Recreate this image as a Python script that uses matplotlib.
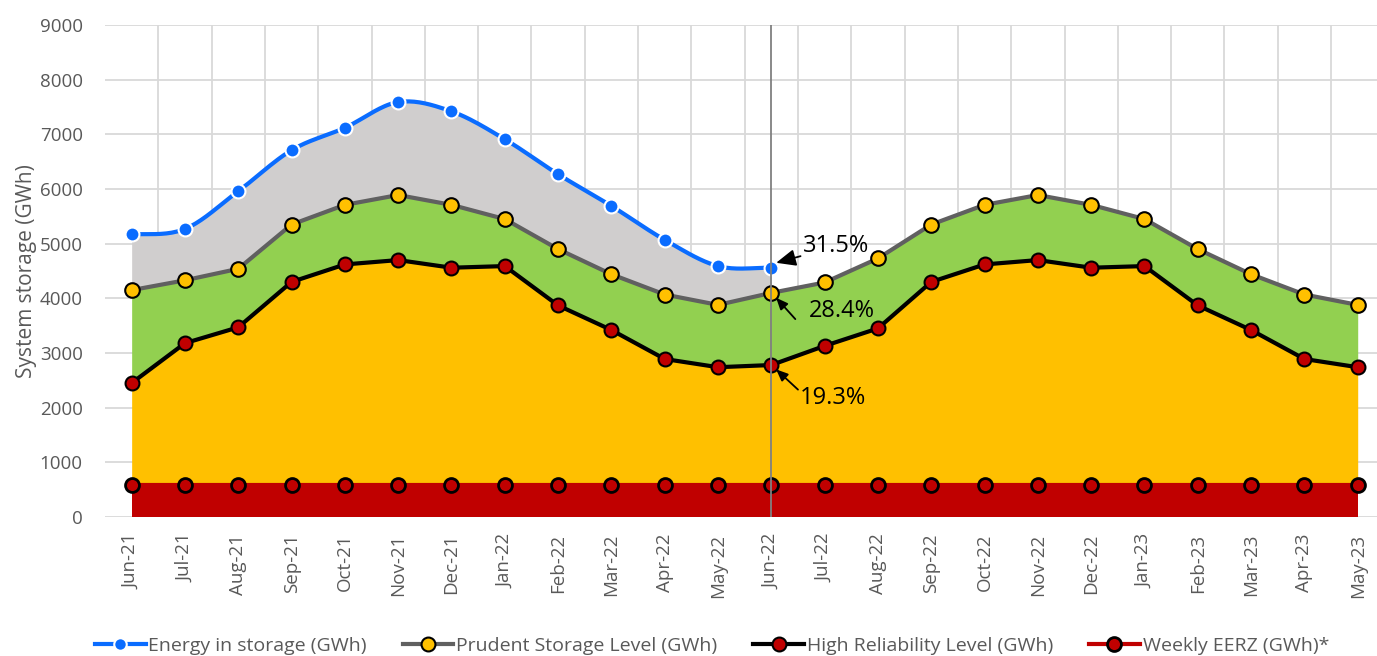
import numpy as np
import matplotlib
matplotlib.use("Agg")
import matplotlib.pyplot as plt
from matplotlib.lines import Line2D

plt.rcParams['font.family'] = ['Open Sans', 'DejaVu Sans']

months = ["Jun-21", "Jul-21", "Aug-21", "Sep-21", "Oct-21", "Nov-21", "Dec-21", "Jan-22",
          "Feb-22", "Mar-22", "Apr-22", "May-22", "Jun-22", "Jul-22", "Aug-22", "Sep-22",
          "Oct-22", "Nov-22", "Dec-22", "Jan-23", "Feb-23", "Mar-23", "Apr-23", "May-23"]
energy = [5170, 5270, 5960, 6710, 7120, 7590, 7420, 6910, 6270, 5690, 5070, 4590, 4560]
prudent = [4150, 4330, 4540, 5350, 5710, 5890, 5710, 5450, 4900, 4440, 4070, 3880,
           4100, 4290, 4730, 5350, 5710, 5890, 5710, 5450, 4900, 4440, 4070, 3880]
high_rel = [2450, 3180, 3470, 4300, 4620, 4700, 4560, 4590, 3870, 3420, 2890, 2740,
            2780, 3130, 3450, 4300, 4620, 4700, 4560, 4590, 3870, 3420, 2890, 2740]
eerz = [590] * 24
labels = ["31.5%", "28.4%", "19.3%"]


def catmull_rom(xs, ys, n=20):
    xs = np.asarray(xs, float)
    ys = np.asarray(ys, float)
    px = np.concatenate([[2 * xs[0] - xs[1]], xs, [2 * xs[-1] - xs[-2]]])
    py = np.concatenate([[ys[0]], ys, [ys[-1]]])
    ox, oy = [], []
    for i in range(1, len(px) - 2):
        t = np.linspace(0, 1, n, endpoint=False)
        for p, o in ((px, ox), (py, oy)):
            p0, p1, p2, p3 = p[i - 1], p[i], p[i + 1], p[i + 2]
            o.extend(0.5 * ((2 * p1) + (-p0 + p2) * t + (2 * p0 - 5 * p1 + 4 * p2 - p3) * t ** 2
                            + (-p0 + 3 * p1 - 3 * p2 + p3) * t ** 3))
    ox.append(xs[-1]); oy.append(ys[-1])
    return np.array(ox), np.array(oy)


fig = plt.figure(figsize=(13.77, 6.56), dpi=100)
ax = fig.add_axes([105 / 1377, 1 - 517 / 656, 1 - 105 / 1377, (517 - 25) / 656])

x = np.arange(len(months))
xe = x[:len(energy)]

sx, sy = catmull_rom(xe, energy)
p_interp = np.interp(sx, xe, prudent[:len(energy)])

ax.fill_between(x, 0, eerz, color="#C00000", zorder=1, lw=0)
ax.fill_between(x, eerz, high_rel, color="#FFC000", zorder=1, lw=0)
ax.fill_between(x, high_rel, prudent, color="#92D050", zorder=1, lw=0)
ax.fill_between(sx, p_interp, sy, color="#D0CECE", zorder=1, lw=0)

ax.plot(x, eerz, color="#C00000", lw=3, zorder=3, marker="o", ms=10,
        mfc="#C00000", mec="black", mew=2)
ax.plot(x, high_rel, color="black", lw=3, zorder=4, marker="o", ms=10,
        mfc="#C00000", mec="black", mew=1.5)
ax.plot(x, prudent, color="#606060", lw=3, zorder=4, marker="o", ms=10.5,
        mfc="#FFC000", mec="black", mew=1.5)
ax.plot(sx, sy, color="#0A6CFF", lw=3, zorder=5, solid_capstyle="round")
ax.plot(xe, energy, ls="none", marker="o", ms=10, mfc="#0A6CFF", mec="white", mew=1.5, zorder=6)

ax.axvline(12, color="#808080", lw=1.3, zorder=7)

xlim_right = 23 + (1377 - 1357.7) / 53.33
ax.set_xlim(-0.5, xlim_right)
ax.set_ylim(0, 9000)
ax.set_yticks(np.arange(0, 9001, 1000))
ax.set_xticks(x)
ax.set_xticklabels(months, rotation=90)
ax.set_xticks(np.arange(0.5, 23, 1), minor=True)
ax.grid(True, which="minor", axis="x", color="#D9D9D9", lw=1.3)
ax.grid(True, which="major", axis="y", color="#D9D9D9", lw=1.3)
ax.set_axisbelow(True)
ax.tick_params(which="both", length=0, labelsize=13.5, colors="#595959")
ax.tick_params(axis="x", pad=12)
ax.tick_params(axis="y", pad=16)
for s in ax.spines.values():
    s.set_visible(False)
ax.set_ylabel("System storage (GWh)", fontsize=15, color="#595959", labelpad=2)

arrowprops = dict(arrowstyle="-|>,head_length=0.7,head_width=0.3", color="black", lw=1.3,
                  shrinkA=0, shrinkB=0)
ax.annotate(labels[0], xy=(12.09, energy[12] + 90), xytext=(12.6, 4950), fontsize=17,
            va="center", ha="left", arrowprops=arrowprops, zorder=8)
ax.annotate("", xy=(12.09, prudent[12] - 90), xytext=(12.45, 3620),
            arrowprops=arrowprops, zorder=8)
ax.text(12.7, 3760, labels[1], fontsize=17, va="center", ha="left", zorder=8)
ax.annotate("", xy=(12.09, high_rel[12] - 80), xytext=(12.5, 2330),
            arrowprops=arrowprops, zorder=8)
ax.text(12.53, 2170, labels[2], fontsize=17, va="center", ha="left", zorder=8)

handles = [
    Line2D([], [], color="#0A6CFF", lw=3, marker="o", ms=9, mfc="#0A6CFF", mec="white", mew=1.5),
    Line2D([], [], color="#606060", lw=3, marker="o", ms=10, mfc="#FFC000", mec="black", mew=1.5),
    Line2D([], [], color="black", lw=3, marker="o", ms=10, mfc="#C00000", mec="black", mew=1.5),
    Line2D([], [], color="#C00000", lw=3, marker="o", ms=10, mfc="#C00000", mec="black", mew=2),
]
leg_labels = ["Energy in storage (GWh)", "Prudent Storage Level (GWh)",
              "High Reliability Level (GWh)", "Weekly EERZ (GWh)*"]
fig.legend(handles, leg_labels, loc="center", bbox_to_anchor=(712 / 1377, 1 - 646 / 656),
           ncol=4, frameon=False, fontsize=14, handlelength=2.6, handletextpad=0.15,
           columnspacing=1.85, labelcolor="#595959", borderaxespad=0, borderpad=0)

fig.savefig("out.png", dpi=100)
